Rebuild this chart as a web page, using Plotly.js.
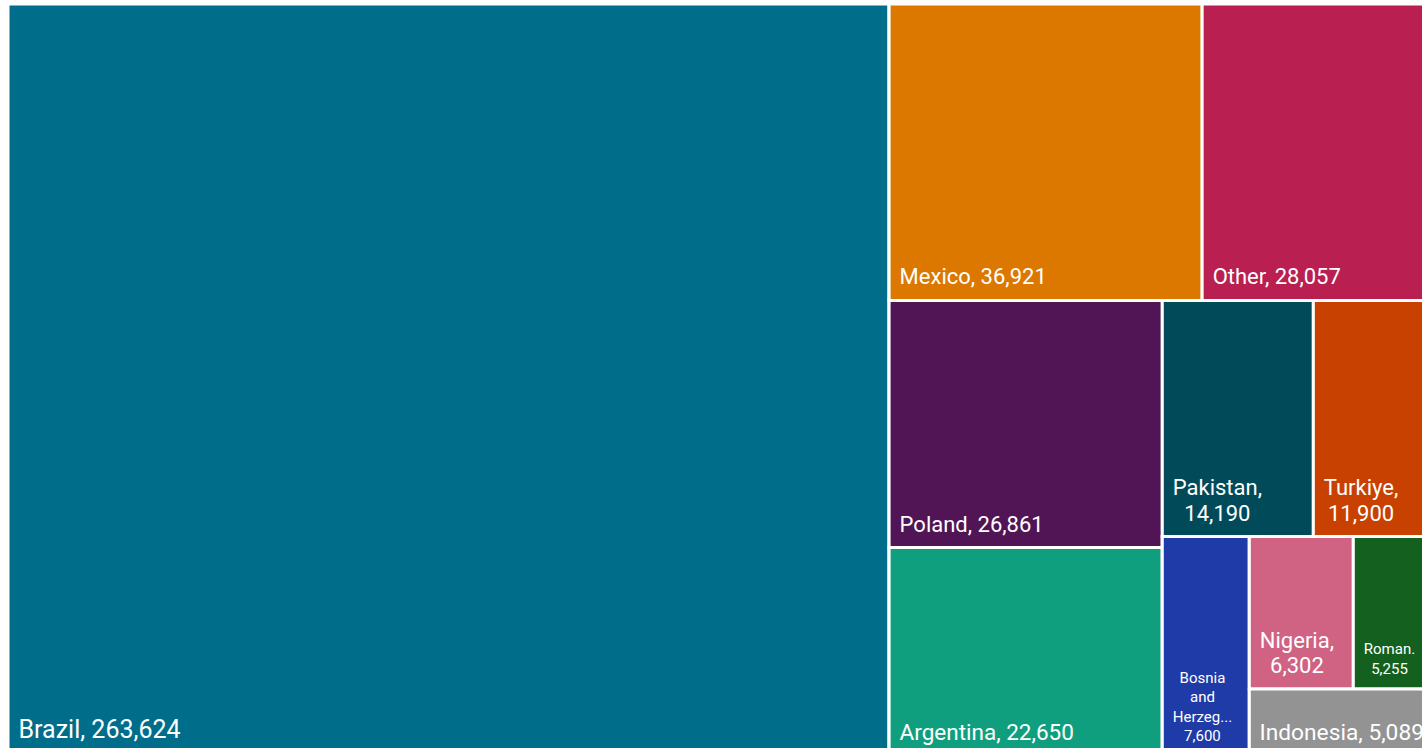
<!DOCTYPE html>
<html>
<head>
<meta charset="utf-8">
<script src="https://cdn.plot.ly/plotly-3.0.1.min.js"></script>
<style>
html, body { margin: 0; padding: 0; overflow: hidden; background: #fff; }
#chart { position: absolute; left: 0; top: 0; }
</style>
</head>
<body>
<div id="chart"></div>
<script>
// Data
const countries = ["Brazil", "Mexico", "Other", "Poland", "Argentina", "Pakistan", "Turkiye", "Bosnia and Herzegovina", "Nigeria", "Romania", "Indonesia"];
const values = [263624, 36921, 28057, 26861, 22650, 14190, 11900, 7600, 6302, 5255, 5089];
// Displayed label lines (as shown in the reference tiles)
const displayLines = [["Brazil, 263,624"], ["Mexico, 36,921"], ["Other, 28,057"], ["Poland, 26,861"], ["Argentina, 22,650"],
  ["Pakistan,", "14,190"], ["Turkiye,", "11,900"], ["Bosnia", "and", "Herzeg...", "7,600"], ["Nigeria,", "6,302"], ["Roman.", "5,255"], ["Indonesia, 5,089"]];
const colors = ["#006E8A", "#DC7800", "#B91F50", "#511555", "#109F7E", "#004A5A", "#C84100", "#1F3BA8", "#D06283", "#14601F", "#939393"];
const glyphSizes = [25, 22, 22, 22, 22.5, 22, 22, 15, 22, 15, 23.5];
const lineSizes = [25, 22, 22, 22, 22.5, 19.5, 19.5, 15, 19.5, 15, 23.5];
const bottomSizes = [62, 54, 54, 54, 54, 54, 54, 50, 54, 50, 54];
// Tiling groups (invisible containers reproducing the reference arrangement)
const countryGroup = ["", "g1", "g1", "g1", "g1", "g1", "g1", "g2", "g3", "g3", "g3"];
const groupIds = ["g1", "g2", "g3"];
const groupParents = ["", "g1", "g2"];

const FONT = "Roboto";
const LEFT_PAD = 7.5;
const cv = document.createElement("canvas").getContext("2d");
function measure(str, size) { cv.font = size + "px " + FONT; return cv.measureText(str).width; }
const nbspRatio = measure("\u00A0", 100) / 100;
function spacer(width) {
  if (width <= 0.2) return "";
  const n = Math.max(1, Math.ceil(width / (nbspRatio * 30)));
  const fs = width / (n * nbspRatio);
  return '<span style="font-size:' + fs.toFixed(2) + 'px">' + "\u00A0".repeat(n) + "</span>";
}
const texts = displayLines.map((lines, i) => {
  const gs = glyphSizes[i];
  const widths = lines.map(l => measure(l, gs));
  const maxW = Math.max.apply(null, widths);
  return lines.map((l, j) => {
    let s = spacer(LEFT_PAD + (maxW - widths[j]) / 2) + '<span style="font-size:' + gs + 'px">' + l + "</span>";
    if (j === lines.length - 1) s += '<span style="font-size:' + bottomSizes[i] + 'px">\u00A0</span>';
    return s;
  }).join("<br>");
});

const ids = countries.concat(groupIds);
const trace = {
  type: "treemap",
  ids: ids,
  labels: countries.concat(groupIds.map(() => "")),
  parents: countryGroup.concat(groupParents),
  values: values.concat(groupIds.map(() => 0)),
  branchvalues: "remainder",
  sort: false,
  text: texts.concat(groupIds.map(() => "")),
  texttemplate: "%{text}",
  textposition: "bottom left",
  textfont: { family: FONT + ", sans-serif", size: lineSizes.concat(groupIds.map(() => 22)), color: "#ffffff" },
  marker: { colors: colors.concat(groupIds.map(() => "#ffffff")), line: { color: "#ffffff", width: 3 }, pad: { t: 0, l: 0, r: 0, b: 0 }, depthfade: false },
  tiling: { pad: 0, packing: "squarify", squarifyratio: 1 },
  pathbar: { visible: false },
  hoverinfo: "label+value"
};

const layout = {
  width: 1440,
  height: 756,
  margin: { l: 8, r: 0, t: 4, b: 0 },
  paper_bgcolor: "#ffffff",
  showlegend: false
};

Plotly.newPlot("chart", [trace], layout, { displayModeBar: false, staticPlot: true });
</script>
</body>
</html>
